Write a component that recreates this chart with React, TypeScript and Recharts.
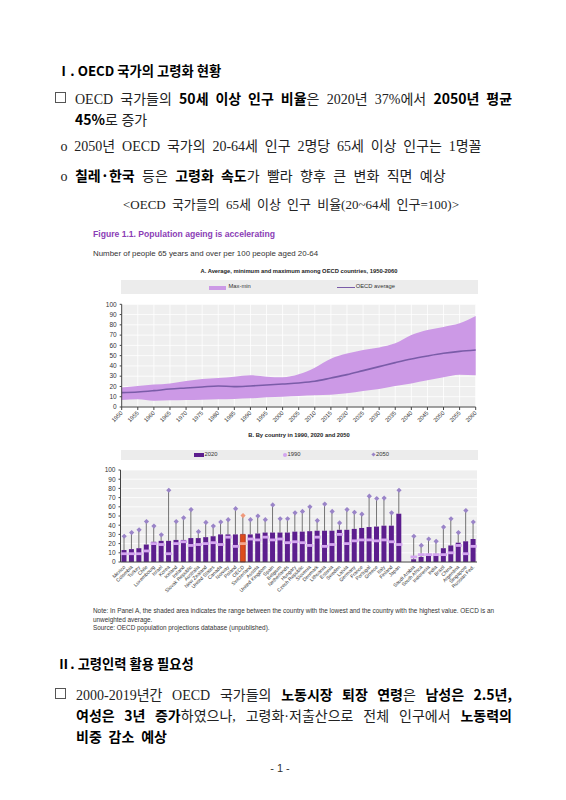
import React from 'react';
import { ComposedChart, Area, Line, Bar, Cell, Scatter, ErrorBar, XAxis, YAxis, CartesianGrid } from 'recharts';

// Panel A: OECD min / max / average, 1950-2060
const years = [1950, 1955, 1960, 1965, 1970, 1975, 1980, 1985, 1990, 1995, 2000, 2005, 2010, 2015, 2020, 2025, 2030, 2035, 2040, 2045, 2050, 2055, 2060];
const maxValues = [19, 20.5, 21.8, 23, 25.3, 27.3, 28.2, 29.5, 30.8, 29.5, 28.9, 31.8, 38.3, 47, 52, 55.5, 58, 62, 70, 75, 78, 81.5, 88.6];
const minValues = [6.8, 7.5, 6.2, 6.5, 6.8, 7.1, 7.5, 7.8, 8.4, 9.4, 10, 10.7, 11.4, 12, 13.3, 15.6, 17.5, 20.5, 23, 26, 29, 31.5, 31];
const avgValues = [14, 14.6, 15.9, 17.5, 18.5, 19.5, 20.5, 19.8, 20.5, 21.4, 22.4, 23.4, 25, 28.2, 31.5, 35.4, 39.3, 43.2, 46.8, 49.7, 52.3, 54.2, 55.5];
const valueTicks = [0, 10, 20, 30, 40, 50, 60, 70, 80, 90, 100];

// Panel B: by country
const countries = ['Mexico', 'Colombia', 'Turkey', 'Chile', 'Luxembourg', 'Israel', 'Korea', 'Iceland', 'Ireland', 'Slovak Republic', 'Australia', 'New Zealand', 'United States', 'Canada', 'Norway', 'Poland', 'OECD', 'Switzerland', 'Austria', 'United Kingdom', 'Spain', 'Belgium', 'Netherlands', 'Hungary', 'Czech Republic', 'Slovenia', 'Denmark', 'Lithuania', 'Estonia', 'Sweden', 'Latvia', 'Germany', 'France', 'Portugal', 'Greece', 'Italy', 'Finland', 'Japan', '', 'Saudi Arabia', 'South Africa', 'Indonesia', 'India', 'Brazil', 'China', 'Argentina', 'Singapore', 'Russian Fed.'];
const values2020 = [13, 14, 15, 19, 22, 23, 23, 24, 24, 26, 26, 27, 28, 30, 30, 30, 30, 30, 31, 32, 32, 32, 32, 33, 33, 33.5, 34, 34, 34, 35, 35, 36, 37, 38, 38.5, 39.5, 39.5, 52.5, null, 3, 5.5, 7, 8, 15, 18, 21, 22.5, 25];
const values1990 = [9, 9, 9, 12, 20, 19, 9, 20, 22, 18, 19, 20, 21, 19, 27, 17, 20, 25, 24, 27, 24, 25, 21, 22, 21, 18, 27, 17, 19, 30, 20, 23, 24, 24, 23, 24, 22, 19, null, 5.5, 8, 8, 8, 8, 10, 18, 9, 17];
const values2050 = [28, 32, 35, 44, 39, 29.5, 78, 44, 48, 57, 33, 43, 39, 43.5, 46, 58, 50.5, 46, 50, 46, 62, 47, 47, 53.5, 55, 60, 45, 63, 55, 42.5, 57, 54, 52, 71.5, 69, 69.5, 53.5, 78, null, 28, 18, 25, 22.5, 38, 47, 32, 56, 43.5];

const panelAData = years.map((y, i) => ({ year: y, range: [minValues[i], maxValues[i]], avg: avgValues[i] }));
const panelBData = countries.map((c, i) => ({
  name: c,
  v2020: values2020[i] ?? undefined,
  v1990: values1990[i] ?? undefined,
  v2050: values2050[i] ?? undefined,
  err: values2020[i] == null ? undefined : [0, (values2050[i] as number) - (values2020[i] as number)],
}));

const SANS = "'Liberation Sans', Arial, sans-serif";
const BODY = "'Liberation Serif', 'Noto Sans CJK KR', serif";
const KBOLD = "'Noto Sans CJK KR', sans-serif";

const YearTick = (props: any) => {
  const { x, y, payload } = props;
  return (
    <text x={x} y={y} dy={2} transform={`rotate(-45 ${x} ${y})`} textAnchor="end" fontSize={5.8} fill="#333" fontFamily={SANS}>
      {payload.value}
    </text>
  );
};

const CountryTick = (props: any) => {
  const { x, y, payload } = props;
  return (
    <text x={x} y={y} dy={2} transform={`rotate(-45 ${x} ${y})`} textAnchor="end" fontSize={5} fill="#333" fontFamily={SANS}>
      {payload.value}
    </text>
  );
};

const Marker1990 = (props: any) => {
  const { cx, cy, payload } = props;
  if (!payload || payload.v1990 == null || cx == null || cy == null || isNaN(cy)) return <g />;
  const fill = payload.name === 'OECD' ? '#f2a58e' : '#d3a5ef';
  return <rect x={cx - 3.4} y={cy - 1.4} width={6.8} height={2.8} fill={fill} />;
};

const Diamond2050 = (props: any) => {
  const { cx, cy, payload } = props;
  if (!payload || payload.v2050 == null || cx == null || cy == null || isNaN(cy)) return <g />;
  const fill = payload.name === 'OECD' ? '#f09a7c' : '#9a84c8';
  const s = 2.6;
  return <polygon points={`${cx},${cy - s} ${cx + s},${cy} ${cx},${cy + s} ${cx - s},${cy}`} fill={fill} />;
};

const B = ({ children }: any) => (
  <span style={{ fontFamily: KBOLD, fontWeight: 700, color: '#000' }}>{children}</span>
);

const TextLine = ({ center, left, width, size = 14, justify = true, children, family = BODY, weight = 400, color = '#222', align }: any) => (
  <div
    style={{
      position: 'absolute',
      top: center - 10,
      left,
      width,
      height: 20,
      lineHeight: '20px',
      fontSize: size,
      fontFamily: family,
      fontWeight: weight,
      color,
      whiteSpace: 'nowrap',
      textAlign: align || (justify ? 'justify' : 'left'),
      textAlignLast: align || (justify ? 'justify' : 'left'),
    }}
  >
    {children}
  </div>
);

const Box = ({ top, left }: any) => (
  <div style={{ position: 'absolute', top, left, width: 9, height: 9, border: '1px solid #555' }} />
);

const Small = ({ top, left, size = 6, children, bold = false, color = '#333', center = false, width }: any) => (
  <div
    style={{
      position: 'absolute',
      top,
      left,
      width,
      fontSize: size,
      lineHeight: `${size + 2}px`,
      fontFamily: SANS,
      fontWeight: bold ? 700 : 400,
      color,
      whiteSpace: 'nowrap',
      textAlign: center ? 'center' : 'left',
    }}
  >
    {children}
  </div>
);

export default function App() {
  return (
    <div style={{ position: 'absolute', left: 0, top: 0, width: 566, height: 800, background: '#fff', overflow: 'hidden' }}>
      {/* Section I */}
      <TextLine center={71} left={57} width={180} size={13.3} justify={false} family={KBOLD} weight={700} color="#000">
        Ⅰ. OECD 국가의 고령화 현황
      </TextLine>
      <Box top={92} left={55} />
      <TextLine center={98} left={75} width={437}>
        OECD 국가들의 <B>50세 이상 인구 비율</B>은 2020년 37%에서 <B>2050년 평균</B>
      </TextLine>
      <TextLine center={119} left={75} width={90} justify={false}>
        <B>45%</B>로 증가
      </TextLine>
      <TextLine center={147} left={60.5} width={421}>
        o 2050년 OECD 국가의 20-64세 인구 2명당 65세 이상 인구는 1명꼴
      </TextLine>
      <TextLine center={175} left={60.5} width={385}>
        o <B>칠레·한국</B> 등은 <B>고령화 속도</B>가 빨라 향후 큰 변화 직면 예상
      </TextLine>
      <TextLine center={205} left={123} width={336} size={13}>
        &lt;OECD 국가들의 65세 이상 인구 비율(20~64세 인구=100)&gt;
      </TextLine>

      {/* Figure header */}
      <Small top={229} left={93} size={8.6} bold color="#8b3db6">Figure 1.1. Population ageing is accelerating</Small>
      <Small top={249} left={93} size={7.9} color="#333">Number of people 65 years and over per 100 people aged 20-64</Small>
      <Small top={268} left={120} width={358} size={5.8} bold color="#222" center>
        A. Average, minimum and maximum among OECD countries, 1950-2060
      </Small>

      {/* Legend A */}
      <div style={{ position: 'absolute', left: 121, top: 280, width: 357, height: 14, background: '#ececec' }} />
      <div style={{ position: 'absolute', left: 208.5, top: 285.5, width: 17.5, height: 4, background: '#cc99e6' }} />
      <Small top={283} left={228.5} size={5.8} color="#333">Max-min</Small>
      <div style={{ position: 'absolute', left: 336.5, top: 286.8, width: 18.5, height: 1.5, background: '#7a5ca8' }} />
      <Small top={283} left={355.7} size={5.8} color="#333">OECD average</Small>

      {/* Panel A chart */}
      <div style={{ position: 'absolute', left: 0, top: 296 }}>
        <ComposedChart width={566} height={135} data={panelAData} margin={{ top: 8.3, right: 70.3, bottom: 0, left: 101.7 }}>
          <CartesianGrid fill="#efefef" stroke="#ffffff" strokeWidth={0.8} />
          <XAxis
            dataKey="year"
            type="number"
            domain={[1950, 2060]}
            ticks={years}
            interval={0}
            height={24}
            tick={<YearTick />}
            tickSize={3}
            stroke="#444"
          />
          <YAxis
            domain={[0, 100]}
            ticks={valueTicks}
            interval={0}
            width={20}
            tickSize={2}
            tickMargin={3}
            stroke="#444"
            tick={{ fontSize: 6.5, fill: '#333', fontFamily: SANS }}
          />
          <YAxis
            yAxisId="r"
            orientation="right"
            domain={[0, 100]}
            ticks={valueTicks}
            interval={0}
            width={20}
            axisLine={false}
            tickLine={false}
            tickMargin={5}
            tick={{ fontSize: 6.5, fill: '#333', fontFamily: SANS }}
          />
          <Area dataKey="range" type="monotone" fill="#cc99e6" fillOpacity={1} stroke="none" isAnimationActive={false} />
          <Line dataKey="avg" type="monotone" stroke="#7a5ca8" strokeWidth={1.6} dot={false} isAnimationActive={false} />
        </ComposedChart>
      </div>

      {/* Panel B header */}
      <Small top={431.5} left={120} width={358} size={5.8} bold color="#222" center>
        B. By country in 1990, 2020 and 2050
      </Small>
      <div style={{ position: 'absolute', left: 121, top: 450, width: 357, height: 10, background: '#ececec' }} />
      <div style={{ position: 'absolute', left: 194, top: 453, width: 9.5, height: 3.8, background: '#5c1e8e' }} />
      <Small top={451} left={204.5} size={5.8} color="#333">2020</Small>
      <div style={{ position: 'absolute', left: 283, top: 453.2, width: 3.6, height: 3.6, borderRadius: 2, background: '#d3a5ef' }} />
      <Small top={451} left={287.5} size={5.8} color="#333">1990</Small>
      <div style={{ position: 'absolute', left: 371.8, top: 453.3, width: 3, height: 3, transform: 'rotate(45deg)', background: '#9a84c8' }} />
      <Small top={451} left={376} size={5.8} color="#333">2050</Small>

      {/* Panel B chart */}
      <div style={{ position: 'absolute', left: 0, top: 464 }}>
        <ComposedChart width={566} height={143} data={panelBData} margin={{ top: 6, right: 69, bottom: 0, left: 100.5 }}>
          <CartesianGrid fill="#efefef" stroke="#ffffff" strokeWidth={0.8} vertical={false} />
          <XAxis dataKey="name" interval={0} height={45} tick={<CountryTick />} tickLine={false} tickSize={2} stroke="#444" />
          <YAxis
            domain={[0, 100]}
            ticks={valueTicks}
            interval={0}
            width={20}
            tickSize={2}
            tickMargin={3}
            stroke="#444"
            tick={{ fontSize: 6.5, fill: '#333', fontFamily: SANS }}
          />
          <YAxis
            yAxisId="r"
            orientation="right"
            domain={[0, 100]}
            ticks={valueTicks}
            interval={0}
            width={20}
            axisLine={false}
            tickLine={false}
            tickMargin={5}
            tick={{ fontSize: 6.5, fill: '#333', fontFamily: SANS }}
          />
          <Bar dataKey="v2020" barSize={5} isAnimationActive={false}>
            {panelBData.map((d, i) => (
              <Cell key={i} fill={d.name === 'OECD' ? '#dc4b1c' : '#5c1e8e'} stroke={d.name === 'OECD' ? '#9c1a10' : 'none'} strokeWidth={0.6} />
            ))}
            <ErrorBar dataKey="err" direction="y" width={0} stroke="#555" strokeWidth={0.8} />
          </Bar>
          <Scatter dataKey="v1990" shape={Marker1990} isAnimationActive={false} />
          <Scatter dataKey="v2050" shape={Diamond2050} isAnimationActive={false} />
        </ComposedChart>
      </div>

      {/* Notes */}
      <Small top={607} left={93} size={6.4} color="#333">
        Note: In Panel A, the shaded area indicates the range between the country with the lowest and the country with the highest value. OECD is an
      </Small>
      <Small top={615.5} left={93} size={6.4} color="#333">unweighted average.</Small>
      <Small top={624} left={93} size={6.4} color="#333">Source: OECD population projections database (unpublished).</Small>

      {/* Section II */}
      <TextLine center={664} left={57} width={150} size={13.3} justify={false} family={KBOLD} weight={700} color="#000">
        Ⅱ. 고령인력 활용 필요성
      </TextLine>
      <Box top={688} left={55} />
      <TextLine center={693.5} left={76} width={436}>
        2000-2019년간 OECD 국가들의 <B>노동시장 퇴장 연령</B>은 <B>남성은 2.5년,</B>
      </TextLine>
      <TextLine center={715} left={76} width={436}>
        <B>여성은 3년 증가</B>하였으나, 고령화·저출산으로 전체 인구에서 <B>노동력의</B>
      </TextLine>
      <TextLine center={736} left={76} width={91}>
        <B>비중 감소 예상</B>
      </TextLine>
      <TextLine center={768} left={230} width={100} size={11} align="center" color="#333" family={SANS}>
        - 1 -
      </TextLine>
    </div>
  );
}
